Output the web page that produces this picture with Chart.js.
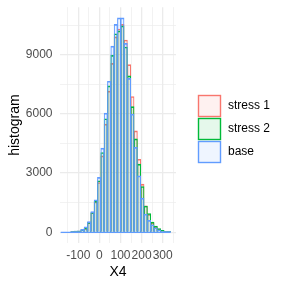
<!DOCTYPE html>
<html><head><meta charset="utf-8">
<script src="https://cdn.jsdelivr.net/npm/chart.js@4.4.1/dist/chart.umd.min.js"></script>
<style>html,body{margin:0;padding:0;background:#fff;}canvas{display:block;}</style>
</head><body>
<canvas id="c" width="288" height="288"></canvas>
<script>
const binCenters = [-175.3,-159.5,-143.7,-127.9,-112.1,-96.3,-80.5,-64.7,-48.9,-33.1,-17.3,-1.5,14.3,30.1,45.9,61.7,77.5,93.3,109.1,124.9,140.7,156.5,172.3,188.1,203.9,219.7,235.5,251.3,267.1,282.9,298.7,314.5,330.3];
const binWidth = 15.8;
const stress1 = [0,0,0,2,50,60,130,200,490,990,1540,2520,3870,5480,7150,8555,9900,10300,10530,9740,8490,6880,5140,3700,2440,1340,900,470,280,160,80,35,10];
const stress2 = [0,0,0,2,55,65,135,220,495,1000,1570,2610,4040,5750,7420,8965,10060,10200,10460,9385,7920,6370,4730,3450,2320,1330,950,520,320,190,100,50,15];
const base = [0,0,0,3,60,75,150,280,540,1045,1650,2780,4260,6035,7650,9430,10530,10860,10860,9570,7800,5990,4300,2860,1730,920,600,380,230,130,60,20,5];
const xGridTicks = [-150,-100,-50,0,50,100,150,200,250,300,350];
const xTickLabels = [-100, 0, 100, 200, 300];
const yGridTicks = [0,1500,3000,4500,6000,7500,9000,10500];
const yTickLabels = [0, 3000, 6000, 9000];
const seriesNames = ['stress 1', 'stress 2', 'base'];
const seriesColors = ['#F8766D', '#00BA38', '#619CFF'];
const seriesFills = ['rgba(248,118,109,0.1)', 'rgba(0,186,56,0.1)', 'rgba(97,156,255,0.1)'];
const seriesValues = [stress1, stress2, base];
const FONT = '"Liberation Sans", Arial, sans-serif';

const barCommon = {
  grouped: false, barPercentage: 1, categoryPercentage: 1,
  borderWidth: {top: 1.0, left: 0.45, right: 0.45, bottom: 0},
  borderSkipped: false
};
const datasets = seriesNames.map((name, i) => Object.assign({
  label: name,
  data: binCenters.map((x, k) => ({x: x, y: seriesValues[i][k]})),
  backgroundColor: seriesFills[i],
  borderColor: seriesColors[i],
  order: 2 - i
}, barCommon));
datasets.push({
  type: 'line', label: 'baseline',
  data: [{x: binCenters[0] - binWidth / 2, y: 0}, {x: binCenters[binCenters.length - 1] + binWidth / 2, y: 0}],
  borderColor: seriesColors[2], borderWidth: 1.2, pointRadius: 0, order: -1
});

const legendPlugin = {
  id: 'ggLegend',
  afterDraw(chart) {
    const ctx = chart.ctx;
    ctx.save();
    seriesNames.forEach((name, i) => {
      const x = 198.5, y = 95.5 + i * 23, w = 22, h = 21;
      ctx.fillStyle = '#fff'; ctx.fillRect(x, y, w, h);
      ctx.fillStyle = seriesFills[i]; ctx.fillRect(x, y, w, h);
      ctx.strokeStyle = seriesColors[i]; ctx.lineWidth = 1.4; ctx.strokeRect(x, y, w, h);
      ctx.fillStyle = '#000'; ctx.font = '12px ' + FONT;
      ctx.textBaseline = 'middle'; ctx.textAlign = 'left';
      ctx.fillText(name, 228, y + h / 2);
    });
    ctx.restore();
  }
};

function resetPad(s) { s.paddingLeft = 0; s.paddingRight = 0; s.paddingTop = 0; s.paddingBottom = 0; }

new Chart(document.getElementById('c'), {
  type: 'bar',
  data: {datasets: datasets},
  options: {
    responsive: false, animation: false, devicePixelRatio: 1,
    layout: {padding: {top: 7.2, right: 112, bottom: 0, left: 0}},
    plugins: {legend: {display: false}, tooltip: {enabled: false}},
    scales: {
      x: {
        type: 'linear', min: -186.7, max: 363, offset: false,
        afterBuildTicks: s => { s.ticks = xGridTicks.map(v => ({value: v})); },
        grid: {offset: false, color: '#EBEBEB', drawTicks: false,
               lineWidth: c => (c.tick && xTickLabels.includes(c.tick.value)) ? 1.3 : 0.65},
        border: {display: false},
        ticks: {autoSkip: false, maxRotation: 0, minRotation: 0,
                padding: 5.3, color: '#4D4D4D', font: {size: 12, family: FONT},
                callback: v => xTickLabels.includes(v) ? String(v) : ''},
        title: {display: true, text: 'X4', color: '#000', font: {size: 14, family: FONT}, padding: {top: 0, bottom: 7.1}},
        afterFit: s => { s.height = 45; resetPad(s); }
      },
      y: {
        type: 'linear', min: -543, max: 11403, beginAtZero: false,
        afterBuildTicks: s => { s.ticks = yGridTicks.map(v => ({value: v})); },
        grid: {color: '#EBEBEB', drawTicks: false,
               lineWidth: c => (c.tick && yTickLabels.includes(c.tick.value)) ? 1.3 : 0.65},
        border: {display: false},
        ticks: {autoSkip: false,
                padding: 7.5, color: '#4D4D4D', font: {size: 12, family: FONT},
                callback: v => yTickLabels.includes(v) ? String(v) : ''},
        title: {display: true, text: 'histogram', color: '#000', font: {size: 14, family: FONT}, padding: {top: 6.6, bottom: 0}},
        afterFit: s => { s.width = 60; resetPad(s); }
      }
    }
  },
  plugins: [legendPlugin]
});
</script>
</body></html>
